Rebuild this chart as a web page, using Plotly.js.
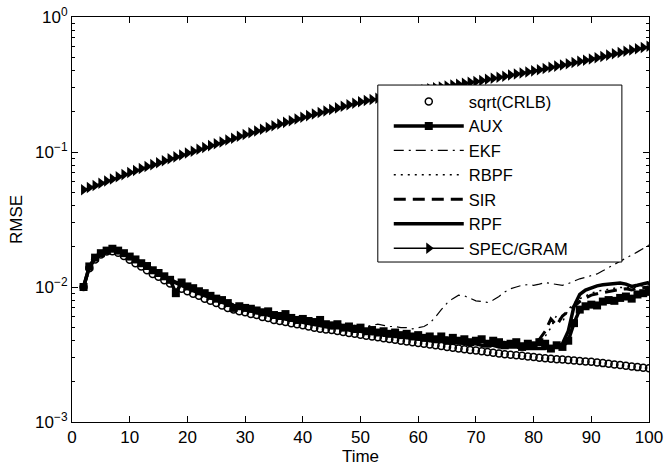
<!DOCTYPE html>
<html>
<head>
<meta charset="utf-8">
<script src="https://cdn.plot.ly/plotly-3.0.1.min.js"></script>
<style>html,body{margin:0;padding:0;background:#fff;}#chart{width:666px;height:468px;}</style>
</head>
<body>
<div id="chart"></div>
<script>
var time = [2,3,4,5,6,7,8,9,10,11,12,13,14,15,16,17,18,19,20,21,22,23,24,25,26,27,28,29,30,31,32,33,34,35,36,37,38,39,40,41,42,43,44,45,46,47,48,49,50,51,52,53,54,55,56,57,58,59,60,61,62,63,64,65,66,67,68,69,70,71,72,73,74,75,76,77,78,79,80,81,82,83,84,85,86,87,88,89,90,91,92,93,94,95,96,97,98,99,100];

var crlb = [0.0100,0.0138,0.0160,0.0174,0.0183,0.0184,0.0179,0.0170,0.0159,0.0150,0.0142,0.0133,0.0125,0.0119,0.0112,0.0106,0.0102,0.0097,0.0093,0.0089,0.0086,0.0082,0.0079,0.0076,0.0073,0.0070,0.0068,0.0066,0.0065,0.0063,0.0062,0.0060,0.0059,0.0057,0.0056,0.0055,0.0054,0.0053,0.0052,0.0051,0.0050,0.0049,0.00485,0.0048,0.00472,0.00465,0.00457,0.0045,0.00443,0.00436,0.0043,0.00424,0.00418,0.00412,0.00406,0.0040,0.00395,0.0039,0.00385,0.0038,0.00375,0.0037,0.00365,0.0036,0.00355,0.0035,0.00346,0.00342,0.00338,0.00334,0.0033,0.00326,0.00322,0.00318,0.00315,0.00312,0.00309,0.00306,0.00303,0.00299,0.00297,0.00294,0.00292,0.0029,0.00288,0.00285,0.00283,0.00281,0.00279,0.00276,0.00273,0.0027,0.00267,0.00264,0.00261,0.00258,0.00255,0.00252,0.0025];

var aux = [0.0100,0.0142,0.0165,0.0178,0.0186,0.0192,0.0186,0.0178,0.0168,0.0160,0.0150,0.0143,0.0133,0.0127,0.0120,0.0113,0.0090,0.0108,0.0101,0.0098,0.0093,0.0090,0.0086,0.0082,0.0080,0.0076,0.0070,0.0072,0.0070,0.0069,0.0067,0.0065,0.0066,0.0062,0.0061,0.0063,0.0059,0.0057,0.0058,0.0056,0.0055,0.0057,0.0053,0.0052,0.0053,0.0050,0.0051,0.0049,0.0050,0.0047,0.0048,0.0046,0.0047,0.0045,0.0046,0.0044,0.0045,0.0043,0.0044,0.0042,0.0043,0.0041,0.0043,0.0040,0.0042,0.0040,0.0041,0.0039,0.0040,0.0041,0.0038,0.0040,0.0039,0.0037,0.0038,0.0039,0.0036,0.0038,0.0037,0.0039,0.0038,0.0035,0.0037,0.0036,0.0040,0.0054,0.0068,0.0072,0.0074,0.0073,0.0078,0.0080,0.0079,0.0083,0.0085,0.0082,0.0088,0.0090,0.0092];

var ekf = [0.0100,0.0141,0.0166,0.0180,0.0190,0.0193,0.0189,0.0181,0.0172,0.0163,0.0154,0.0145,0.0137,0.0130,0.0123,0.0117,0.0111,0.0106,0.0101,0.0097,0.0093,0.0089,0.0086,0.0083,0.0080,0.0077,0.0075,0.0073,0.0071,0.0069,0.0068,0.0066,0.0065,0.0063,0.0062,0.0061,0.0060,0.0059,0.0058,0.0057,0.0056,0.0055,0.0055,0.0054,0.0053,0.0053,0.0052,0.0052,0.0051,0.0051,0.0052,0.0053,0.0052,0.0051,0.0051,0.0050,0.0050,0.0049,0.0050,0.0051,0.0054,0.0060,0.0068,0.0076,0.0082,0.0087,0.0086,0.0082,0.0079,0.0078,0.0077,0.0080,0.0085,0.0092,0.0097,0.0100,0.0103,0.0104,0.0103,0.0105,0.0108,0.0106,0.0104,0.0103,0.0106,0.0111,0.0115,0.0118,0.0121,0.0125,0.0132,0.0140,0.0147,0.0155,0.0163,0.0172,0.0182,0.0193,0.0205];

var rbpf = [0.0100,0.0138,0.0162,0.0177,0.0185,0.0188,0.0183,0.0175,0.0166,0.0158,0.0148,0.0139,0.0132,0.0124,0.0118,0.0112,0.0107,0.0102,0.0098,0.0094,0.0090,0.0086,0.0083,0.0080,0.0077,0.0075,0.0072,0.0070,0.0068,0.0067,0.0065,0.0064,0.0062,0.0061,0.0060,0.0058,0.0057,0.0056,0.0055,0.0054,0.0053,0.0053,0.0052,0.0051,0.0050,0.0050,0.0049,0.0048,0.0048,0.0047,0.0047,0.0046,0.0046,0.0045,0.0045,0.0044,0.0044,0.0043,0.0043,0.0042,0.0042,0.0041,0.0041,0.0041,0.0040,0.0040,0.0040,0.0039,0.0039,0.0039,0.0038,0.0038,0.0038,0.0038,0.0037,0.0037,0.0037,0.0037,0.0038,0.0039,0.0043,0.0050,0.0062,0.0055,0.0068,0.0076,0.0082,0.0086,0.0090,0.0093,0.0095,0.0096,0.0098,0.0099,0.0100,0.0098,0.0101,0.0103,0.0104];

var sir = [0.0100,0.0139,0.0164,0.0179,0.0187,0.0190,0.0185,0.0177,0.0169,0.0161,0.0151,0.0142,0.0135,0.0127,0.0121,0.0114,0.0109,0.0104,0.0100,0.0096,0.0092,0.0088,0.0085,0.0082,0.0079,0.0076,0.0074,0.0072,0.0070,0.0068,0.0067,0.0065,0.0063,0.0062,0.0061,0.0059,0.0058,0.0057,0.0056,0.0055,0.0054,0.0054,0.0053,0.0052,0.0051,0.0051,0.0050,0.0049,0.0049,0.0048,0.0048,0.0047,0.0047,0.0046,0.0046,0.0045,0.0045,0.0044,0.0044,0.0043,0.0043,0.0042,0.0042,0.0042,0.0041,0.0041,0.0041,0.0040,0.0040,0.0040,0.0039,0.0039,0.0039,0.0039,0.0038,0.0038,0.0038,0.0038,0.0039,0.0041,0.0047,0.0058,0.0052,0.0061,0.0066,0.0072,0.0078,0.0083,0.0087,0.0089,0.0091,0.0093,0.0094,0.0096,0.0097,0.0095,0.0098,0.0099,0.0100];

var rpf = [0.0100,0.0140,0.0163,0.0177,0.0185,0.0188,0.0184,0.0176,0.0167,0.0158,0.0149,0.0140,0.0132,0.0125,0.0118,0.0112,0.0107,0.0102,0.0098,0.0094,0.0090,0.0086,0.0083,0.0080,0.0077,0.0074,0.0072,0.0070,0.0068,0.0066,0.0065,0.0063,0.0062,0.0060,0.0059,0.0058,0.0057,0.0056,0.0055,0.0054,0.0053,0.0052,0.0051,0.0050,0.0050,0.0049,0.0048,0.0047,0.0047,0.0046,0.0045,0.0045,0.0044,0.0044,0.0043,0.0043,0.0042,0.0042,0.0041,0.0041,0.0040,0.0040,0.0040,0.0039,0.0039,0.0039,0.0038,0.0038,0.0038,0.0037,0.0037,0.0037,0.0036,0.0036,0.0036,0.0036,0.0035,0.0035,0.0035,0.0035,0.0035,0.0036,0.0036,0.0038,0.0047,0.0072,0.0088,0.0095,0.0099,0.0102,0.0104,0.0105,0.0106,0.0107,0.0105,0.0101,0.0103,0.0106,0.0108];

var specgram = [0.0525,0.0545,0.0565,0.0587,0.0609,0.0632,0.0655,0.0680,0.0706,0.0730,0.0754,0.0780,0.0806,0.0833,0.0861,0.0890,0.0920,0.0950,0.0982,0.1014,0.1047,0.1080,0.1115,0.1151,0.1188,0.1227,0.1266,0.1307,0.1349,0.1389,0.1431,0.1474,0.1518,0.1563,0.1610,0.1658,0.1707,0.1758,0.1811,0.1860,0.1909,0.1960,0.2013,0.2067,0.2122,0.2179,0.2237,0.2297,0.2360,0.2405,0.2451,0.2498,0.2546,0.2594,0.2644,0.2694,0.2746,0.2798,0.2850,0.2895,0.2940,0.2987,0.3033,0.3081,0.3129,0.3179,0.3229,0.3279,0.3330,0.3391,0.3453,0.3516,0.3581,0.3646,0.3713,0.3781,0.3850,0.3920,0.3990,0.4072,0.4155,0.4240,0.4327,0.4416,0.4507,0.4599,0.4693,0.4790,0.4890,0.4998,0.5107,0.5220,0.5334,0.5452,0.5572,0.5694,0.5819,0.5947,0.6080];

var seriesNames = ['sqrt(CRLB)','AUX','EKF','RBPF','SIR','RPF','SPEC/GRAM'];
var xTickVals = [0,10,20,30,40,50,60,70,80,90,100];
var yTickVals = [0.001,0.01,0.1,1];
var yTickText = ['10<sup>\u22123</sup>','10<sup>\u22122</sup>','10<sup>\u22121</sup>','10<sup>0</sup>'];

var FONT = 'Liberation Sans, Arial, Helvetica, sans-serif';

var traces = [
  {x: time, y: crlb, name: seriesNames[0], mode: 'markers', type: 'scatter',
   marker: {symbol: 'circle-open', size: 7, color: '#000', line: {width: 1.5, color: '#000'}}},
  {x: time, y: aux, name: seriesNames[1], mode: 'lines+markers', type: 'scatter',
   line: {color: '#000', width: 3.5}, marker: {symbol: 'square', size: 8, color: '#000'}},
  {x: time, y: ekf, name: seriesNames[2], mode: 'lines', type: 'scatter',
   line: {color: '#000', width: 1.2, dash: '10px,5px,2px,5px'}},
  {x: time, y: rbpf, name: seriesNames[3], mode: 'lines', type: 'scatter',
   line: {color: '#000', width: 1.5, dash: '2px,5px'}},
  {x: time, y: sir, name: seriesNames[4], mode: 'lines', type: 'scatter',
   line: {color: '#000', width: 3, dash: '12px,7px'}},
  {x: time, y: rpf, name: seriesNames[5], mode: 'lines', type: 'scatter',
   line: {color: '#000', width: 3.5}},
  {x: time, y: specgram, name: seriesNames[6], mode: 'lines+markers', type: 'scatter',
   line: {color: '#000', width: 1.5}, marker: {symbol: 'triangle-right', size: 10, color: '#000'}}
];

var layout = {
  width: 666, height: 468,
  margin: {l: 72, r: 17, t: 17, b: 46},
  paper_bgcolor: '#fff', plot_bgcolor: '#fff',
  font: {family: FONT, size: 16, color: '#000'},
  showlegend: true,
  legend: {
    x: 0.549, y: 0.834, xanchor: 'left', yanchor: 'top',
    bgcolor: 'rgba(0,0,0,0)', borderwidth: 0,
    itemwidth: 70,
    font: {family: FONT, size: 16.5, color: '#000'}
  },
  shapes: [
    {type: 'rect', xref: 'paper', yref: 'paper', x0: 0.530, x1: 0.953, y0: 0.395, y1: 0.832,
     fillcolor: '#fff', line: {color: '#000', width: 1}, layer: 'above'}
  ],
  xaxis: {
    range: [0, 100], tickmode: 'array', tickvals: xTickVals,
    ticks: 'inside', ticklen: 6, tickwidth: 1, tickcolor: '#000',
    showline: true, linecolor: '#000', linewidth: 1, mirror: 'ticks',
    showgrid: false, zeroline: false, ticklabeloverflow: 'allow',
    tickfont: {family: FONT, size: 17, color: '#000'},
    title: {text: 'Time', font: {family: FONT, size: 17, color: '#000'}, standoff: 2}
  },
  yaxis: {
    type: 'log', range: [-3, 0], tickmode: 'array', tickvals: yTickVals, ticktext: yTickText,
    ticks: 'inside', ticklen: 6, tickwidth: 1, tickcolor: '#000',
    showline: true, linecolor: '#000', linewidth: 1, mirror: 'ticks',
    showgrid: false, zeroline: false, ticklabeloverflow: 'allow',
    minor: {ticks: 'inside', ticklen: 3, tickcolor: '#000', dtick: 'D1', showgrid: false},
    tickfont: {family: FONT, size: 17, color: '#000'},
    title: {text: 'RMSE', font: {family: FONT, size: 17, color: '#000'}, standoff: 8}
  }
};

Plotly.newPlot('chart', traces, layout, {displayModeBar: false, staticPlot: true});
</script>
</body>
</html>
